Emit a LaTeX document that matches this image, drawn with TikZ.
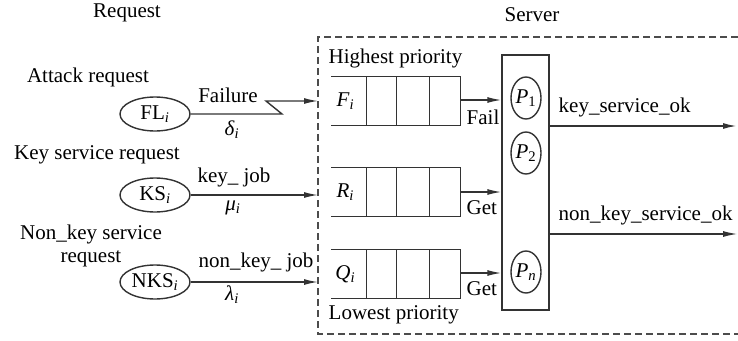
\documentclass[tikz,border=0pt]{standalone}
\usepackage{fontspec}
\setmainfont{Liberation Serif}
\usetikzlibrary{arrows.meta,shapes.geometric,calc}
\newcommand{\isub}[1]{\textsubscript{\textit{#1}}}
\begin{document}
\begin{tikzpicture}[x=1pt,y=-1pt,
  font=\fontsize{21}{23}\selectfont,
  line width=1.4pt, draw=black!80,
  txt/.style={inner sep=0pt},
  req/.style={ellipse,draw,inner sep=0pt,minimum width=70pt,minimum height=34pt},
  proc/.style={ellipse,draw,inner sep=0pt,minimum width=30pt,minimum height=42pt},
  flow/.style={-{Latex[length=14pt,width=6pt]}},
  queuebox/.style={inner sep=0pt,minimum width=128pt,minimum height=48pt},
  bound/.style={dash pattern=on 7pt off 4pt,draw=black!70,line width=1.2pt}]
\useasboundingbox (0,0) rectangle (738,340);

% column headings
\node[txt] (hreq) at (127,13) {Request};
\node[txt] (hsrv) at (532,15) {Server};

% server boundary (open to the right)
\draw[bound] (738,37) -- (318,37) -- (318,334) -- (738,334);
\coordinate (inF) at (318,101);
\coordinate (inR) at (318,195);
\coordinate (inQ) at (318,282);

% request sources
\node[txt] (tatk) at (88,77) {Attack request};
\node[req] (fl) at (155,114) {FL\isub{i}};
\node[txt] (tkey) at (97,155) {Key service request};
\node[req] (ks) at (155,195) {KS\isub{i}};
\node[txt,align=center] (tnk) at (91,246) {Non\_key service\\request};
\node[req] (nks) at (155,282) {NKS\isub{i}};

% request flows
\draw[flow] (fl.east) -- (282,114) -- (266,101) -- (inF);
\node[txt] (lfail) at (228,95) {Failure};
\node[txt] (ldel) at (232,130) {\textit{δ}\isub{i}};
\draw[flow] (ks.east) -- (inR);
\node[txt] (lkey) at (234,177) {key\_ job};
\node[txt] (lmu) at (233,208) {\textit{μ}\isub{i}};
\draw[flow] (nks.east) -- (inQ);
\node[txt] (lnk) at (256,262) {non\_key\_ job};
\node[txt] (llam) at (232,295) {\textit{λ}\isub{i}};

% priority queues
\node[txt,anchor=west] (thi) at (328,58) {Highest priority};
\node[txt,anchor=west] (tlo) at (328,315) {Lowest priority};
\foreach \q/\y/\lab in {qF/101/F,qR/192/R,qQ/274/Q}{
  \node[queuebox] (\q) at (396,\y) {};
  \draw (\q.north west) -- (\q.north east) -- (\q.south east) -- (\q.south west);
  \foreach \dx in {35,65,98}
    \draw ($(\q.north west)+(\dx,0)$) -- ($(\q.south west)+(\dx,0)$);
  \node[txt] at ($(\q.west)+(14,0)$) {\textit{\lab}\isub{i}};
}

% processor bank
\node[draw,inner sep=0pt,minimum width=47pt,minimum height=255pt] (srv) at (525.5,182.5) {};
\node[proc] (p1) at (526,98) {\textit{P}\textsubscript{1}};
\node[proc] (p2) at (526,153) {\textit{P}\textsubscript{2}};
\node[proc] (pn) at (526,272) {\textit{P}\isub{n}};

% queue outputs
\draw[flow] (qF.east |- 0,100) -- (srv.west |- 0,100);
\node[txt,anchor=west] (lf) at (466,117) {Fail};
\draw[flow] (qR.east) -- (srv.west |- qR.east);
\node[txt,anchor=west] (lg1) at (466,208) {Get};
\draw[flow] (qQ.east |- 0,273) -- (srv.west |- 0,273);
\node[txt,anchor=west] (lg2) at (466,289) {Get};

% server outputs
\coordinate (o1) at (737,126);
\coordinate (o2) at (737,234);
\draw[flow,line width=1.8pt] (srv.east |- o1) -- (o1);
\node[txt,anchor=west] (lok) at (558,107) {key\_service\_ok};
\draw[flow,line width=1.1pt] (srv.east |- o2) -- (o2);
\node[txt,anchor=west] (lnok) at (558,215) {non\_key\_service\_ok};
\end{tikzpicture}
\end{document}
